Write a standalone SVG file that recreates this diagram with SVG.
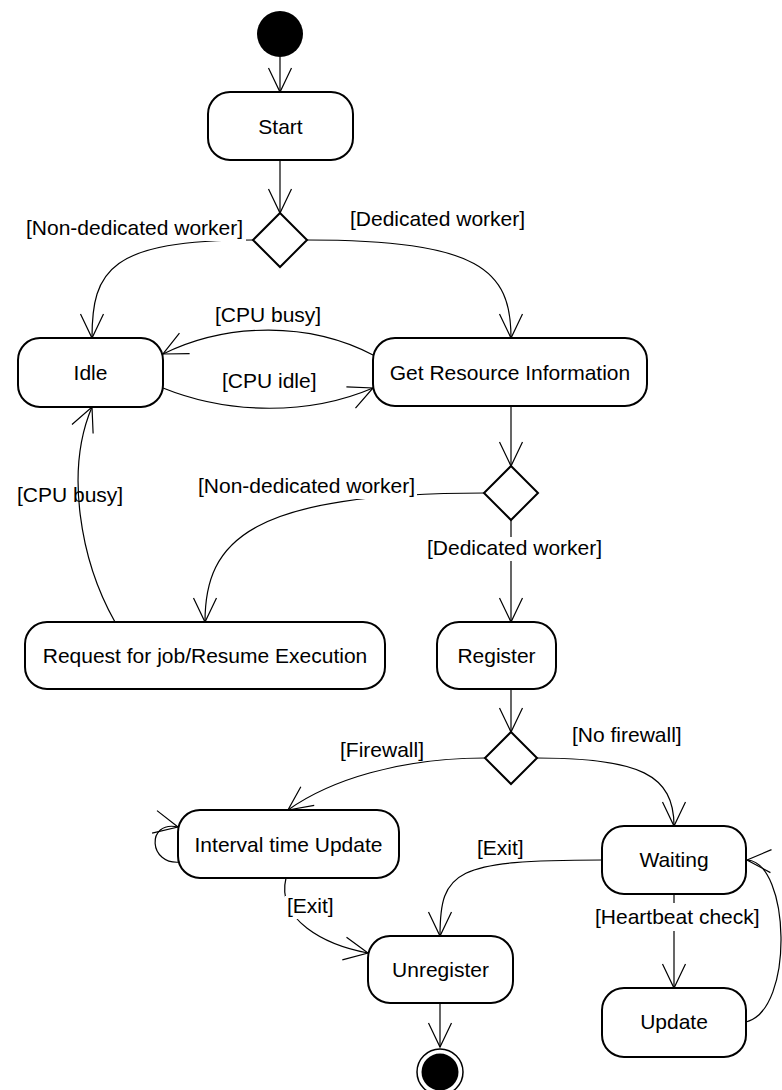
<svg xmlns="http://www.w3.org/2000/svg" width="782" height="1090" viewBox="0 0 782 1090">
  <style>
    .state rect { fill: #fff; stroke: #000; stroke-width: 2; }
    .decision polygon { fill: #fff; stroke: #000; stroke-width: 2; }
    text { font-family: "Liberation Sans", Arial, Helvetica, sans-serif; font-size: 21px; fill: #000; }
    .name { text-anchor: middle; }
    .edge { fill: none; stroke: #000; stroke-width: 1.2; marker-end: url(#open-arrow); }
    .guard-bg { fill: #fff; }
  </style>
  <defs>
    <marker id="open-arrow" markerUnits="userSpaceOnUse" viewBox="0 0 30 24" markerWidth="30" markerHeight="24" refX="24" refY="12" orient="auto" overflow="visible">
      <path d="M0,0.5 L24,12 L0,23.5" fill="none" stroke="#000" stroke-width="1.2"/>
    </marker>
  </defs>

  <rect width="782" height="1090" fill="#fff"/>

  <!-- transitions -->
  <g id="connectors">
    <path class="edge" d="M280,57 L280,92"/>
    <path class="edge" d="M280,160 L280,213"/>
    <path class="edge" d="M253,240 C110,240 92,270 92,338"/>
    <path class="edge" d="M307,240 C480,240 511,270 511,338"/>
    <path class="edge" d="M373,355 C310,322 228,322 163,354"/>
    <path class="edge" d="M163,388 C230,415 310,415 373,388"/>
    <path class="edge" d="M511,406 L511,466"/>
    <path class="edge" d="M485,493 C250,493 205,540 205,622"/>
    <path class="edge" d="M511,520 L511,622"/>
    <path class="edge" d="M115,622 C80,560 65,470 92,407"/>
    <path class="edge" d="M511,689 L511,732"/>
    <path class="edge" d="M485,758 C400,758 330,780 288,810"/>
    <path class="edge" d="M537,758 C640,758 674,775 674,826"/>
    <path class="edge" d="M602,860 C455,860 440,870 440,936"/>
    <path class="edge" d="M286,878 C276,920 325,945 368,953"/>
    <path class="edge" d="M674,894 L674,988"/>
    <path class="edge" d="M746,1022 C795,1010 790,862 747,860"/>
    <path class="edge" d="M181,862 C148,866 146,820 178,827"/>
    <path class="edge" d="M440,1003 L440,1047"/>

    <!-- guard labels -->
    <g id="guards">
      <rect class="guard-bg" x="24" y="218" width="222" height="23"/>
      <text x="26" y="235">[Non-dedicated worker]</text>
      <text x="350" y="226">[Dedicated worker]</text>
      <text x="215" y="322">[CPU busy]</text>
      <text x="222" y="388">[CPU idle]</text>
      <rect class="guard-bg" x="196" y="476" width="221" height="23"/>
      <text x="198" y="493">[Non-dedicated worker]</text>
      <text x="17" y="502">[CPU busy]</text>
      <rect class="guard-bg" x="425" y="537" width="181" height="24"/>
      <text x="427" y="555">[Dedicated worker]</text>
      <text x="340" y="757">[Firewall]</text>
      <text x="572" y="742">[No firewall]</text>
      <text x="477" y="855">[Exit]</text>
      <rect class="guard-bg" x="285" y="896" width="51" height="23"/>
      <text x="287" y="913">[Exit]</text>
      <rect class="guard-bg" x="594" y="903" width="169" height="28"/>
      <text x="595" y="924">[Heartbeat check]</text>
    </g>
  </g>

  <!-- initial pseudo-state -->
  <g id="initial">
    <circle cx="280" cy="34" r="23" fill="#000"/>
  </g>

  <g id="start" class="state">
    <rect x="208" y="92" width="145" height="68" rx="22"/>
    <text class="name" x="280.5" y="133.5">Start</text>
  </g>

  <g id="choice-worker" class="decision">
    <polygon points="280,213 307,240 280,267 253,240"/>
  </g>

  <g id="idle" class="state">
    <rect x="18" y="338" width="145" height="69" rx="22"/>
    <text class="name" x="90.5" y="380">Idle</text>
  </g>

  <g id="get-resource-info" class="state">
    <rect x="373" y="338" width="274" height="68" rx="22"/>
    <text class="name" x="510" y="380">Get Resource Information</text>
  </g>

  <g id="choice-worker-2" class="decision">
    <polygon points="511,466 538,493 511,520 484,493"/>
  </g>

  <g id="request-job" class="state">
    <rect x="25" y="622" width="360" height="67" rx="22"/>
    <text class="name" x="205" y="663">Request for job/Resume Execution</text>
  </g>

  <g id="register" class="state">
    <rect x="437" y="622" width="119" height="67" rx="22"/>
    <text class="name" x="496.5" y="663">Register</text>
  </g>

  <g id="choice-firewall" class="decision">
    <polygon points="511,732 537,758 511,784 485,758"/>
  </g>

  <g id="interval-update" class="state">
    <rect x="178" y="810" width="221" height="68" rx="22"/>
    <text class="name" x="288.5" y="852">Interval time Update</text>
  </g>

  <g id="waiting" class="state">
    <rect x="602" y="826" width="144" height="68" rx="22"/>
    <text class="name" x="674" y="867">Waiting</text>
  </g>

  <g id="unregister" class="state">
    <rect x="368" y="936" width="145" height="67" rx="22"/>
    <text class="name" x="440.5" y="977">Unregister</text>
  </g>

  <g id="update" class="state">
    <rect x="602" y="988" width="144" height="69" rx="22"/>
    <text class="name" x="674" y="1029">Update</text>
  </g>

  <!-- final state -->
  <g id="final">
    <circle cx="440" cy="1072" r="23" fill="#fff" stroke="#000" stroke-width="1.5"/>
    <circle cx="440" cy="1072" r="18.5" fill="#000"/>
  </g>
</svg>
